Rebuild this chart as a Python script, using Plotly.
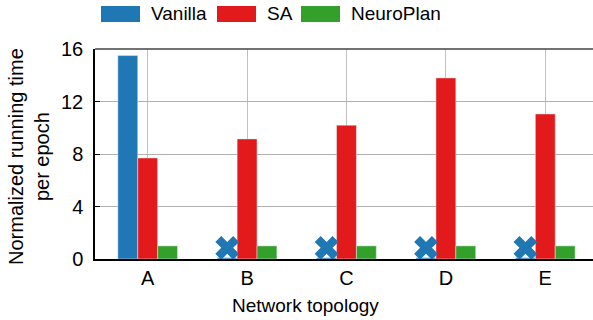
import plotly.graph_objects as go

categories = ["A", "B", "C", "D", "E"]
series_names = ["Vanilla", "SA", "NeuroPlan"]
vanilla = [15.5, 0.1, 0.1, 0.1, 0.1]
sa = [7.7, 9.15, 10.2, 13.8, 11.05]
neuroplan = [1.0, 1.0, 1.0, 1.0, 1.0]
vanilla_failed = [None, 0.85, 0.85, 0.85, 0.85]
y_ticks = [0, 4, 8, 12, 16]

colors = ["#1f77b4", "#e31a1c", "#33a02c"]
C_V, C_S, C_N = colors

fig = go.Figure()
fig.add_trace(go.Bar(x=categories, y=vanilla, name="Vanilla", marker_color=C_V,
                     offsetgroup="v", showlegend=False))
fig.add_trace(go.Bar(x=categories, y=sa, name="SA", marker_color=C_S,
                     offsetgroup="s", showlegend=False))
fig.add_trace(go.Bar(x=categories, y=neuroplan, name="NeuroPlan", marker_color=C_N,
                     offsetgroup="n", showlegend=False))
fig.add_trace(go.Scatter(x=categories, y=vanilla_failed, mode="markers",
                         marker=dict(symbol="x", size=21, color=C_V, line=dict(width=0)),
                         offsetgroup="v", showlegend=False))

# top frame line
fig.add_shape(type="line", xref="paper", yref="paper", x0=0, x1=1, y0=1, y1=1,
              line=dict(color="#444444", width=1.5))

# pixel -> paper helpers
L, PW, T, PH = 95, 498, 49, 210
def px(x): return (x - L) / PW
def py(y): return (T + PH - y) / PH

# manual legend (wide swatches like the reference)
swatch_left = [101, 217, 301]
for name, c, x0 in zip(series_names, colors, swatch_left):
    fig.add_shape(type="rect", xref="paper", yref="paper",
                  x0=px(x0), x1=px(x0 + 39), y0=py(22), y1=py(6),
                  fillcolor=c, line=dict(width=0))
    fig.add_annotation(xref="paper", yref="paper", x=px(x0 + 48), y=py(14),
                       text=name, showarrow=False, xanchor="left", yanchor="middle",
                       font=dict(size=19))

# x-axis title
fig.add_annotation(xref="paper", yref="paper", x=px(305), y=py(305),
                   text="Network topology", showarrow=False,
                   xanchor="center", yanchor="middle", font=dict(size=19))

# y-axis title
fig.add_annotation(xref="paper", yref="paper", x=px(29), y=py(157),
                   text="Normalized running time<br>per epoch", showarrow=False,
                   textangle=-90, xanchor="center", yanchor="middle",
                   font=dict(size=20))

fig.update_layout(
    width=593, height=320,
    margin=dict(l=95, r=0, t=49, b=61),
    plot_bgcolor="white", paper_bgcolor="white",
    barmode="group", bargap=0.4, bargroupgap=0,
    scattermode="group", scattergap=0.4,
    showlegend=False,
    font=dict(family="Liberation Sans, Arial", size=20, color="black"),
    xaxis=dict(showgrid=True, gridcolor="#c0c0c0", gridwidth=1,
               showline=True, linecolor="black", linewidth=1.5,
               ticks="", range=[-0.53, 4.48]),
    yaxis=dict(range=[0, 16], tickvals=y_ticks, showgrid=True, gridcolor="#b0b0b0",
               gridwidth=1, showline=True, linecolor="black", linewidth=1.5,
               ticks="inside", ticklen=5, tickcolor="black", zeroline=False,
               ticklabelstandoff=6),
)
fig.write_html("out.html")
